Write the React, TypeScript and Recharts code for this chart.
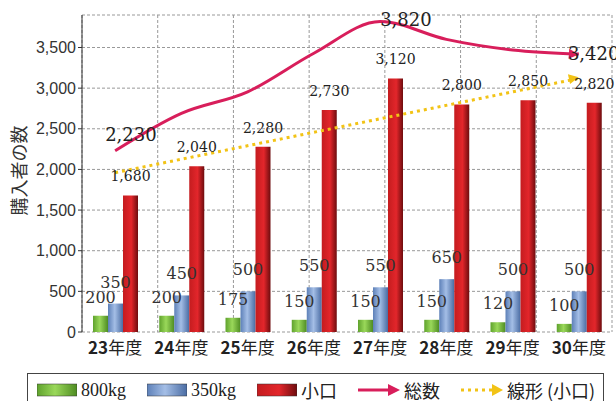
import React from 'react';
import {
  ComposedChart,
  Bar,
  Line,
  XAxis,
  YAxis,
  CartesianGrid,
  LabelList,
} from 'recharts';

const years = ['23年度', '24年度', '25年度', '26年度', '27年度', '28年度', '29年度', '30年度'];
const bags800 = [200, 200, 175, 150, 150, 150, 120, 100];
const bags350 = [350, 450, 500, 550, 550, 650, 500, 500];
const koguchi = [1680, 2040, 2280, 2730, 3120, 2800, 2850, 2820];
const totals = [2230, 2690, 2955, 3430, 3820, 3600, 3470, 3420];
// trend line of 小口, read at its two ends
const trendEnds = [1960, null, null, null, null, null, null, 3120];
const yTicks = [0, 500, 1000, 1500, 2000, 2500, 3000, 3500];
const gridTicks = [0, 1, 2, 3, 4, 5, 6, 7, 8];
const totalLabelAt = [0, 4, 7];

const data = years.map((year, i) => ({
  year,
  b800: bags800[i],
  b350: bags350[i],
  koguchi: koguchi[i],
  total: totals[i],
  trend: trendEnds[i],
}));

const SERIF = '"DejaVu Serif", serif';
const LSERIF = '"Liberation Serif", serif';
const SANS = '"Liberation Sans", Arial, sans-serif';
const JP = '"Noto Sans CJK JP", sans-serif';
const PINK = '#d81e5b';
const YELLOW = '#f2c316';

const fmt = (v: any) => Number(v).toLocaleString('en-US');

const XTick = (props: any) => {
  const { x, y, payload } = props;
  const m = /^(\d+)(.*)$/.exec(payload.value) || ['', payload.value, ''];
  return (
    <text x={x} y={y + 14} textAnchor="middle" fill="#222" fontFamily={JP} fontSize={17}>
      <tspan fontWeight="bold">{m[1]}</tspan>
      <tspan>{m[2]}</tspan>
    </text>
  );
};

const arrowDot = (angle: number, color: string, last: number) => (props: any) => {
  const { cx, cy, index } = props;
  if (index !== last || cx == null || cy == null) return <g key={index} />;
  return (
    <polygon
      key={index}
      points="-4,-5 6,0 -4,5"
      fill={color}
      transform={`translate(${cx - 6},${cy}) rotate(${angle})`}
    />
  );
};

const labelShift: Record<number, [number, number]> = { 0: [-10, -10], 4: [0, 4], 7: [-11, 6] };

const TotalLabel = (props: any) => {
  const { x, y, value, index } = props;
  if (!totalLabelAt.includes(index)) return null;
  const [dx, dy] = labelShift[index] || [0, 0];
  return (
    <text x={x + dx} y={y + dy} fontFamily={SERIF} fontSize={18} fill="#222" textAnchor="start">
      {fmt(value)}
    </text>
  );
};

const BarIcon = ({ id }: { id: string }) => (
  <svg width={40} height={14} style={{ flexShrink: 0 }}>
    <rect x={0} y={1} width={40} height={12} fill={`url(#${id})`} stroke="#333" strokeWidth={0.5} />
  </svg>
);

const legendItems = [
  { key: 'b800', name: '800kg', kind: 'bar', grad: 'lg800', font: LSERIF },
  { key: 'b350', name: '350kg', kind: 'bar', grad: 'lg350', font: LSERIF },
  { key: 'koguchi', name: '小口', kind: 'bar', grad: 'lgKog', font: JP },
  { key: 'total', name: '総数', kind: 'line', font: JP },
  { key: 'trend', name: '線形 (小口)', kind: 'trend', font: JP },
];

const Gradients = () => (
  <defs>
    <linearGradient id="lg800" x1="0" y1="0" x2="1" y2="0">
      <stop offset="0%" stopColor="#5fa22d" />
      <stop offset="45%" stopColor="#9ad85a" />
      <stop offset="100%" stopColor="#4e8c22" />
    </linearGradient>
    <linearGradient id="lg350" x1="0" y1="0" x2="1" y2="0">
      <stop offset="0%" stopColor="#5d80b8" />
      <stop offset="45%" stopColor="#a4bee6" />
      <stop offset="100%" stopColor="#4a6ca3" />
    </linearGradient>
    <linearGradient id="lgKog" x1="0" y1="0" x2="1" y2="0">
      <stop offset="0%" stopColor="#c41c1f" />
      <stop offset="55%" stopColor="#e3262b" />
      <stop offset="100%" stopColor="#6e0c0e" />
    </linearGradient>
  </defs>
);

// legend box runs past the bottom edge in the original, so no bottom border here
const Legend = () => (
  <div
    style={{
      position: 'absolute',
      left: 27,
      top: 373,
      width: 577,
      height: 28,
      border: '1px solid #444',
      borderBottom: 'none',
      boxSizing: 'border-box',
      display: 'flex',
      alignItems: 'flex-start',
      paddingLeft: 9,
      paddingTop: 7,
      gap: 21,
      background: '#fff',
      whiteSpace: 'nowrap',
    }}
  >
    <svg width={0} height={0} style={{ position: 'absolute' }}>
      <Gradients />
    </svg>
    {legendItems.map((it) => (
      <div key={it.key} style={{ display: 'flex', alignItems: 'center', gap: 4, flexShrink: 0, height: 18 }}>
        {it.kind === 'bar' && <BarIcon id={it.grad as string} />}
        {it.kind === 'line' && (
          <svg width={42} height={14}>
            <line x1={0} y1={7} x2={32} y2={7} stroke={PINK} strokeWidth={3} />
            <polygon points="30,1 42,7 30,13" fill={PINK} />
          </svg>
        )}
        {it.kind === 'trend' && (
          <svg width={42} height={14}>
            <line x1={0} y1={7} x2={32} y2={7} stroke={YELLOW} strokeWidth={3} strokeDasharray="3 4" />
            <polygon points="31,1 42,7 31,13" fill={YELLOW} />
          </svg>
        )}
        <span style={{ fontFamily: it.font, fontSize: 18, color: '#222', lineHeight: '18px' }}>{it.name}</span>
      </div>
    ))}
  </div>
);

export default function App() {
  return (
    <div style={{ position: 'absolute', left: 0, top: 0, width: 616, height: 401, background: '#fff', overflow: 'hidden' }}>
      <ComposedChart
        width={616}
        height={401}
        data={data}
        margin={{ top: 15, right: 4, bottom: 39, left: 0 }}
        barCategoryGap={11}
        barGap={0}
      >
        <Gradients />
        <XAxis
          xAxisId="grid"
          type="number"
          domain={[0, 8]}
          ticks={gridTicks}
          height={0}
          tickFormatter={() => ''}
          tickSize={8}
          stroke="#333"
          allowDataOverflow
        />
        <XAxis
          xAxisId="cat"
          dataKey="year"
          height={30}
          axisLine={false}
          tickLine={false}
          tick={<XTick />}
          interval={0}
        />
        <YAxis
          width={82}
          domain={[0, 3900]}
          ticks={yTicks}
          tickFormatter={fmt}
          tick={{ fontFamily: SANS, fontSize: 16, fill: '#333' }}
          tickSize={4}
          stroke="#333"
          label={(p: any) => {
            const vb = p.viewBox;
            const cx = 18;
            const cy = vb.y + vb.height / 2 - 3;
            return (
              <text
                x={cx}
                y={cy}
                transform={`rotate(-90, ${cx}, ${cy})`}
                textAnchor="middle"
                dominantBaseline="central"
                fontFamily={JP}
                fontSize={18}
                fill="#333"
              >
                購入者の数
              </text>
            );
          }}
        />
        <CartesianGrid xAxisId="grid" stroke="#999" strokeDasharray="3 2" />
        <Bar xAxisId="cat" dataKey="b800" name="800kg" fill="url(#lg800)" isAnimationActive={false}>
          <LabelList dataKey="b800" position="top" offset={13} fontFamily={SERIF} fontSize={16} fill="#333" />
        </Bar>
        <Bar xAxisId="cat" dataKey="b350" name="350kg" fill="url(#lg350)" isAnimationActive={false}>
          <LabelList dataKey="b350" position="top" offset={16} fontFamily={SERIF} fontSize={16} fill="#333" />
        </Bar>
        <Bar xAxisId="cat" dataKey="koguchi" name="小口" fill="url(#lgKog)" isAnimationActive={false}>
          <LabelList
            dataKey="koguchi"
            position="top"
            offset={14}
            formatter={fmt}
            fontFamily={SERIF}
            fontSize={14}
            fill="#222"
          />
        </Bar>
        <Line
          xAxisId="cat"
          dataKey="trend"
          name="線形 (小口)"
          type="linear"
          connectNulls
          stroke={YELLOW}
          strokeWidth={3}
          strokeDasharray="3 4"
          dot={arrowDot(-12, YELLOW, 7)}
          activeDot={false}
          isAnimationActive={false}
        />
        <Line
          xAxisId="cat"
          dataKey="total"
          name="総数"
          type="monotone"
          stroke={PINK}
          strokeWidth={3}
          dot={arrowDot(4, PINK, 7)}
          activeDot={false}
          isAnimationActive={false}
        >
          <LabelList dataKey="total" content={<TotalLabel />} />
        </Line>
      </ComposedChart>
      <Legend />
    </div>
  );
}
